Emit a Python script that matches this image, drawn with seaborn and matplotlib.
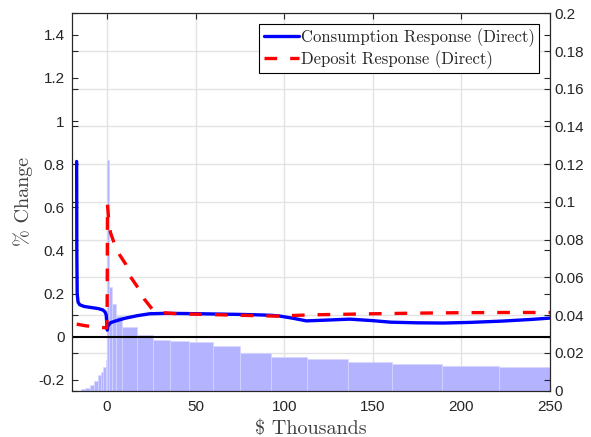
"""
Consumption / deposit response by liquid wealth, with the wealth histogram behind
"""

import numpy as np
import matplotlib
matplotlib.use("Agg")
import matplotlib.pyplot as plt
from matplotlib.ticker import FormatStrFormatter, MultipleLocator
import seaborn as sns

# ========== data ==========
# wealth histogram: bin edges ($ thousands) and bar heights (right axis)
hist_edges = [-15, -12.4, -9.6, -7.3, -5.2, -3.5, -2.25, -0.85, 0, 0.9, 2.8, 4.8,
              8.6, 17, 26, 35.5, 46.5, 60, 75, 92.5, 113, 136, 161, 189, 221.5, 250]
hist_heights = [0.0006, 0.0014, 0.003, 0.0052, 0.008, 0.01, 0.0127, 0.016,
                0.122, 0.055, 0.046, 0.0397, 0.0338, 0.0294, 0.027, 0.0265, 0.0257,
                0.0238, 0.0201, 0.018, 0.0165, 0.0153, 0.0142, 0.0131, 0.0124]

# consumption response (left axis, % change)
cons_x = [-17.2, -17.1, -16.9, -16.4, -15.5, -13, -9, -5, -2.5, -1.2, -0.5, -0.1, 0.1,
          0.5, 2, 5, 10, 17, 24, 33, 45, 60, 75, 85, 92, 97, 105, 112.5, 125, 137,
          150, 160, 175, 190, 205, 223, 240, 250]
cons_y = [0.8125, 0.4, 0.2, 0.16, 0.148, 0.14, 0.135, 0.13, 0.124, 0.115, 0.1, 0.05, 0.03,
          0.05, 0.065, 0.073, 0.085, 0.097, 0.106, 0.108, 0.107, 0.105, 0.103, 0.101, 0.099,
          0.096, 0.085, 0.073, 0.077, 0.081, 0.074, 0.067, 0.064, 0.063, 0.066, 0.072,
          0.08, 0.086]

# deposit response (left axis, % change)
dep_x = [-17.2, -12, -7, -2, -0.3, 0.0, 0.2, 0.6, 1.2, 2, 3.5, 5, 7, 10.5, 13, 18, 21,
         25.5, 28, 33, 40, 50, 60, 70, 80, 90, 97, 105, 115, 130, 150, 175, 200, 225, 250]
dep_y = [0.058, 0.05, 0.046, 0.042, 0.04, 0.1, 0.613, 0.57, 0.51, 0.48, 0.445, 0.41,
         0.38, 0.336, 0.28, 0.22, 0.174, 0.127, 0.113, 0.11, 0.106, 0.104, 0.102, 0.1,
         0.098, 0.096, 0.095, 0.098, 0.101, 0.103, 0.106, 0.109, 0.111, 0.112, 0.112]

x_ticks = [0, 50, 100, 150, 200, 250]
label_cons = "Consumption Response (Direct)"
label_dep = "Deposit Response (Direct)"

# ========== style ==========
sns.set_style("white")
plt.rcParams['font.family'] = ['Liberation Sans', 'DejaVu Sans']
plt.rcParams['axes.unicode_minus'] = False
plt.rcParams['axes.edgecolor'] = '#262626'
plt.rcParams['axes.linewidth'] = 0.8
label_font = ['cmr10', 'DejaVu Serif']
ink = '#262626'

fig = plt.figure(figsize=(5.91, 4.37), dpi=100)
fig.subplots_adjust(left=0.1213, right=0.9306, top=0.9696, bottom=0.1064)
ax = fig.add_subplot(111)      # histogram, right-hand scale
ax2 = ax.twinx()               # response lines, left-hand scale

# histogram bars (weights = bar height, one point per bin)
edges = np.array(hist_edges)
centers = (edges[:-1] + edges[1:]) / 2
sns.histplot(x=centers, weights=hist_heights, bins=hist_edges, ax=ax,
             color='#b3b3ff', alpha=1.0, edgecolor='#d6d6ff', linewidth=0.5,
             legend=False)
ax.set_ylabel('')
ax.set_xlim(-20, 250)
ax.set_ylim(0, 0.2)
ax.set_xticks(x_ticks)
ax.yaxis.set_major_locator(MultipleLocator(0.02))
ax.yaxis.set_major_formatter(FormatStrFormatter('%g'))
ax.set_axisbelow(True)
ax.grid(True, color='#e3e3e3', linewidth=1.0)
ax.yaxis.tick_right()
ax.tick_params(axis='y', which='both', left=True, right=True, labelleft=False,
               labelright=True, direction='in', length=4, width=0.8,
               labelsize=11, colors=ink, pad=3)
ax.tick_params(axis='x', top=True, bottom=True, direction='in', length=4, width=0.8,
               labelsize=11, colors=ink, pad=7)
ax.set_xlabel(r'\$ Thousands', family=label_font, fontsize=14.5, color='#404040',
              labelpad=4)

# response lines
ax2.axhline(0, color='black', linewidth=1.5, zorder=1)
sns.lineplot(x=cons_x, y=cons_y, ax=ax2, color='blue', linewidth=2.4,
             sort=False, estimator=None, label=label_cons)
sns.lineplot(x=dep_x, y=dep_y, ax=ax2, color='red', linewidth=2.4,
             linestyle=(0, (3.8, 3.9)), sort=False, estimator=None, label=label_dep)
ax2.set_ylim(-0.25, 1.5)
ax2.set_yticks([-0.2, 0, 0.2, 0.4, 0.6, 0.8, 1, 1.2, 1.4])
ax2.yaxis.set_major_formatter(FormatStrFormatter('%g'))
ax2.yaxis.tick_left()
ax2.yaxis.set_label_position('left')
ax2.tick_params(axis='y', which='both', left=True, right=True, labelleft=True,
                labelright=False, direction='in', length=4, width=0.8,
                labelsize=11, colors=ink, pad=5)
ax2.set_ylabel('% Change', family=label_font, fontsize=14.5, color='#404040',
               labelpad=4)

leg = ax2.legend(loc='upper right', prop={'family': label_font, 'size': 12},
                 frameon=True, fancybox=False, framealpha=1, edgecolor='black',
                 handlelength=2.1, handletextpad=0.15, borderpad=0.25,
                 labelspacing=0.2, borderaxespad=0.65)
leg.get_frame().set_linewidth(0.8)

plt.savefig('out.png', dpi=100)
plt.close()
